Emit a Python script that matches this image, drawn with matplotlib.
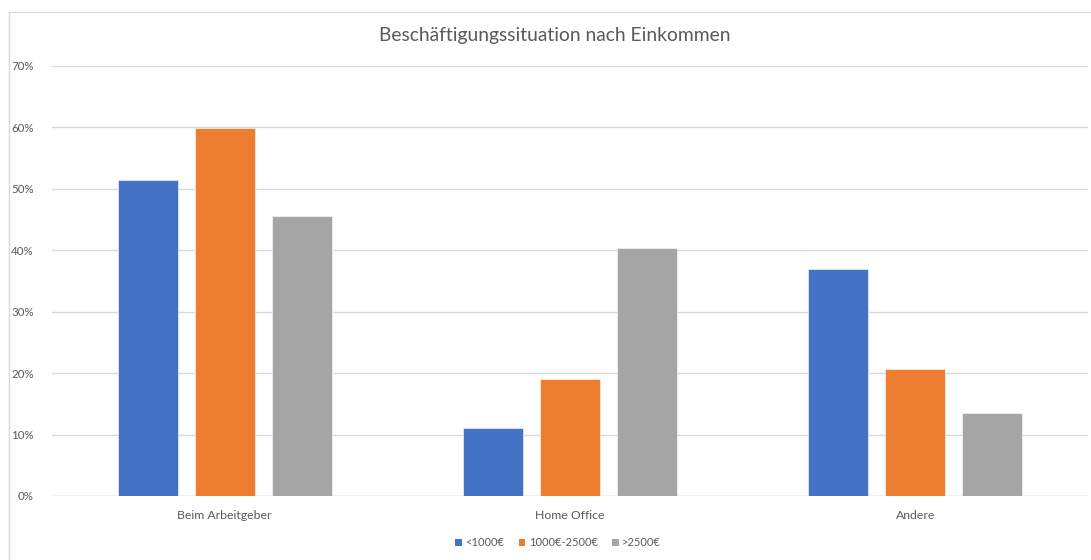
import matplotlib.pyplot as plt
import numpy as np
from matplotlib.lines import Line2D
from matplotlib.patches import Patch

plt.rcParams['font.family'] = ['Lato', 'DejaVu Sans']

categories = ['Beim Arbeitgeber', 'Home Office', 'Andere']
series_names = ['<1000€', '1000€-2500€', '>2500€']
under_1000 = [0.514, 0.111, 0.370]
mid_1000_2500 = [0.599, 0.191, 0.206]
over_2500 = [0.456, 0.403, 0.135]
colors = ['#4472C4', '#ED7D31', '#A5A5A5']
yticks = [0, 0.1, 0.2, 0.3, 0.4, 0.5, 0.6, 0.7]

text_color = '#595959'
grid_color = '#D9D9D9'

W, H = 1091, 560
fig = plt.figure(figsize=(W / 100, H / 100), dpi=100)
ax = fig.add_axes([52 / W, 1 - 496 / H, (1088 - 52) / W, (496 - 66) / H])

x = np.arange(len(categories))
bar_w = 60 / 345.3
step = 77 / 345.3
for i, (vals, name) in enumerate(zip([under_1000, mid_1000_2500, over_2500], series_names)):
    ax.bar(x + (i - 1) * step, vals, width=bar_w, color=colors[i], label=name,
           edgecolor='white', linewidth=0.4, zorder=3)

ax.set_xlim(-0.5, 2.5)
ax.set_ylim(0, 0.7)
ax.set_yticks(yticks)
ax.set_yticklabels([f'{int(round(t * 100))}%' for t in yticks])
ax.set_xticks(x)
ax.set_xticklabels(categories)
ax.yaxis.grid(True, color=grid_color, linewidth=1, zorder=0)
for s in ax.spines.values():
    s.set_visible(False)
ax.axhline(0, color=grid_color, linewidth=1, zorder=1)
ax.tick_params(axis='both', length=0, colors=text_color, labelsize=8)
ax.tick_params(axis='x', labelsize=8.8, pad=10)
ax.tick_params(axis='y', labelsize=8.3, pad=13)

fig.text(555 / W, 1 - 36 / H, 'Beschäftigungssituation nach Einkommen',
         ha='center', va='center', fontsize=13.9, color=text_color)

handles = [Patch(facecolor=c, edgecolor='none') for c in colors]
fig.legend(handles, series_names, loc='center', bbox_to_anchor=(558 / W, 1 - 543 / H),
           ncol=3, frameon=False, fontsize=8, labelcolor=text_color,
           handlelength=0.6, handleheight=0.6, handletextpad=0.3, columnspacing=1.3)

# chart area border (Excel style), open to the right and bottom
fig.add_artist(Line2D([8.5 / W, 8.5 / W], [0, 1 - 11.5 / H], color=grid_color,
                      linewidth=1, transform=fig.transFigure))
fig.add_artist(Line2D([8.5 / W, 1], [1 - 11.5 / H, 1 - 11.5 / H], color=grid_color,
                      linewidth=1, transform=fig.transFigure))

fig.savefig('out.png', dpi=100)
